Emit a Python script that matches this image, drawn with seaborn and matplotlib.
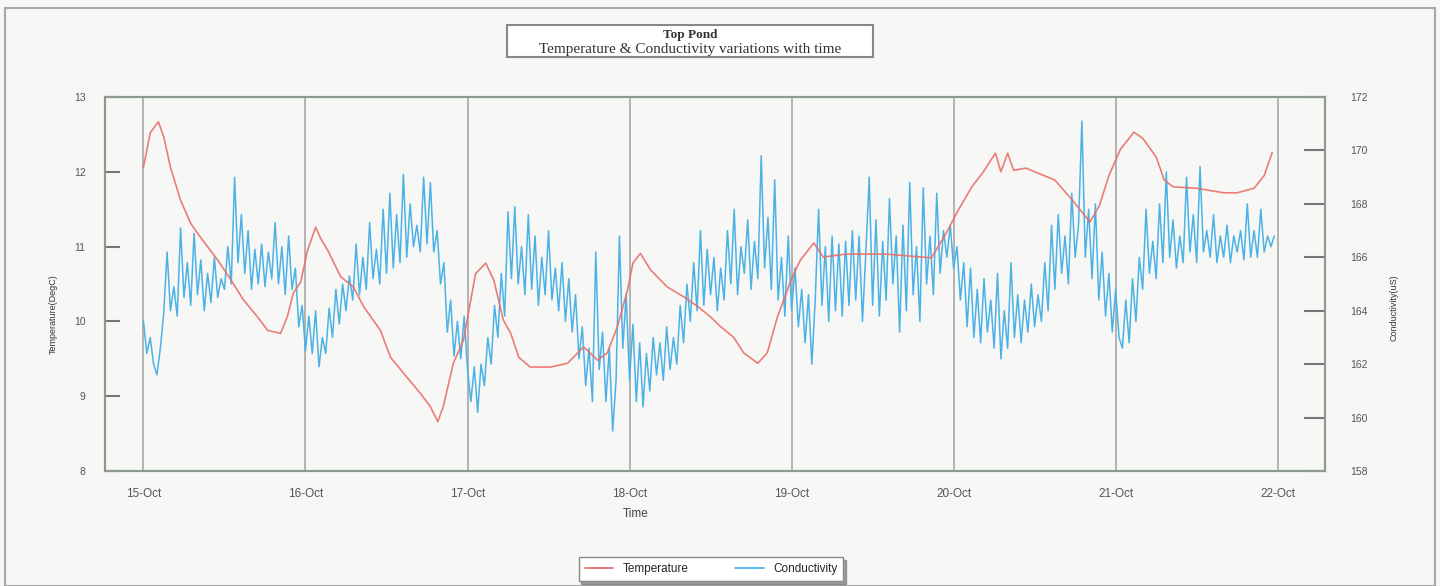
import pandas as pd
import seaborn as sns
import matplotlib.pyplot as plt
from matplotlib.patches import Rectangle
from matplotlib.lines import Line2D

# temperature readings: hours after 15-Oct 00:00 and DegC
temp_hours = [0, 1.0, 2.2, 3.0, 4.0, 5.5, 7.0, 8.4, 11.0, 13.0, 14.8, 16.9, 18.4, 20.3,
              21.3, 22.2, 23.3, 24.3, 25.5, 26.3, 27.3, 29.2, 31.1, 32.6, 35.1, 36.6,
              38.5, 41.0, 42.5, 43.6, 44.4, 45.9, 47.4, 49.2, 50.7, 51.9, 53.3, 54.4,
              55.6, 57.3, 60.3, 62.8, 65.2, 67.3, 68.7, 70.2, 71.7, 72.5, 73.6, 75.1,
              77.6, 80.0, 82.1, 84.0, 85.5, 87.4, 88.9, 91.0, 92.4, 93.9, 95.9, 97.3,
              99.3, 100.7, 104.0, 110.0, 116.7, 118.9, 120.7, 122.7, 124.4, 126.2,
              127.0, 128.0, 128.9, 130.7, 135.0, 137.6, 140.2, 141.6, 143.0, 144.7,
              146.7, 148.0, 150.0, 151.2, 152.5, 156.0, 160.0, 162.0, 164.5, 166.0, 167.2]
temp_values = [12.06, 12.52, 12.67, 12.47, 12.06, 11.62, 11.31, 11.13, 10.82, 10.55, 10.29,
               10.06, 9.88, 9.84, 10.06, 10.38, 10.53, 10.95, 11.26, 11.10, 10.95, 10.60,
               10.46, 10.20, 9.88, 9.52, 9.31, 9.04, 8.86, 8.66, 8.86, 9.44, 9.75, 10.64,
               10.78, 10.55, 10.02, 9.84, 9.52, 9.39, 9.39, 9.44, 9.66, 9.48, 9.58, 9.93,
               10.42, 10.78, 10.91, 10.69, 10.46, 10.33, 10.20, 10.06, 9.93, 9.79, 9.58,
               9.44, 9.58, 10.06, 10.55, 10.82, 11.05, 10.86, 10.90, 10.90, 10.85, 11.18,
               11.49, 11.80, 12.00, 12.25, 12.00, 12.25, 12.02, 12.05, 11.89, 11.62, 11.33,
               11.55, 11.95, 12.30, 12.53, 12.45, 12.20, 11.89, 11.80, 11.78, 11.72, 11.72,
               11.78, 11.95, 12.26]

# conductivity (uS), half-hourly, one list per day
cond_15 = [163.6, 162.4, 163.0, 162.0, 161.6, 162.6, 163.9, 166.2, 164.0, 164.9, 163.8, 167.1,
           164.5, 165.8, 164.2, 166.9, 164.6, 165.9, 164.0, 165.4, 164.3, 166.0, 164.5, 165.2,
           164.8, 166.4, 165.0, 169.0, 165.8, 167.6, 165.4, 167.0, 164.8, 166.3, 165.0, 166.5,
           164.9, 166.2, 165.2, 167.3, 165.0, 166.4, 164.6, 166.8, 164.8, 165.6, 163.4, 164.2]
cond_16 = [162.5, 163.8, 162.4, 164.0, 161.9, 163.0, 162.4, 164.1, 163.0, 164.8, 163.5, 165.0,
           164.0, 165.3, 164.4, 166.5, 164.6, 166.0, 164.8, 167.3, 165.2, 166.3, 165.0, 167.8,
           165.4, 168.4, 165.6, 167.6, 165.8, 169.1, 166.0, 168.0, 166.4, 167.2, 166.2, 169.0,
           166.5, 168.8, 166.2, 167.0, 165.0, 165.8, 163.2, 164.4, 162.3, 163.6, 162.2, 163.8]
cond_17 = [161.8, 160.6, 161.9, 160.2, 162.0, 161.2, 163.0, 162.0, 164.2, 163.0, 165.4, 163.8,
           167.7, 165.2, 167.9, 165.0, 166.4, 164.6, 167.6, 164.8, 166.8, 164.2, 166.0, 164.6,
           167.0, 164.4, 165.6, 164.0, 165.8, 163.6, 165.2, 163.2, 164.6, 162.2, 163.4, 161.2,
           162.6, 160.6, 166.2, 161.8, 163.2, 160.6, 162.6, 159.5, 161.4, 166.8, 162.6, 164.6]
cond_18 = [161.4, 163.5, 160.6, 162.8, 160.4, 162.4, 161.0, 163.0, 161.6, 162.8, 161.4, 163.4,
           161.8, 163.0, 162.0, 164.2, 162.8, 165.0, 163.6, 165.8, 164.0, 167.0, 164.2, 166.3,
           164.6, 166.0, 164.0, 165.6, 164.4, 167.0, 165.0, 167.8, 164.6, 166.4, 165.4, 167.4,
           164.8, 166.6, 165.2, 169.8, 165.6, 167.5, 164.8, 168.9, 164.4, 166.0, 163.8, 166.8]
cond_19 = [164.0, 165.6, 163.4, 164.8, 162.8, 164.6, 162.0, 164.4, 167.8, 164.2, 166.4, 163.6,
           166.8, 164.0, 166.5, 163.8, 166.6, 164.2, 167.0, 164.4, 166.8, 163.6, 166.2, 169.0,
           164.2, 167.4, 163.8, 166.6, 164.4, 168.2, 165.0, 166.8, 163.2, 167.2, 164.0, 168.8,
           164.6, 166.4, 163.6, 168.6, 165.0, 166.8, 164.6, 168.4, 165.4, 167.0, 166.0, 167.2]
cond_20 = [165.6, 166.4, 164.4, 165.8, 163.4, 165.6, 163.0, 164.8, 162.8, 165.2, 163.2, 164.4,
           162.6, 165.4, 162.2, 164.0, 162.6, 165.8, 163.0, 164.6, 162.8, 164.4, 163.2, 165.0,
           163.4, 164.6, 163.6, 165.8, 164.0, 167.2, 164.8, 167.6, 165.4, 166.8, 165.0, 168.4,
           166.0, 167.2, 171.1, 166.0, 167.8, 165.2, 168.0, 164.4, 166.2, 163.8, 165.4, 163.2]
cond_21 = [164.8, 163.0, 162.6, 164.4, 162.8, 165.2, 163.6, 166.0, 164.8, 167.8, 165.4, 166.6,
           165.2, 168.0, 165.8, 169.2, 166.0, 167.4, 165.6, 166.8, 165.8, 169.0, 166.2, 167.6,
           165.8, 169.4, 166.2, 167.0, 166.0, 167.6, 165.8, 166.8, 166.0, 167.2, 165.8, 166.8,
           166.2, 167.0, 165.9, 168.0, 166.0, 167.0, 166.0, 167.8, 166.2, 166.8, 166.4, 166.8]

day_labels = ['15-Oct', '16-Oct', '17-Oct', '18-Oct', '19-Oct', '20-Oct', '21-Oct', '22-Oct']
temp_ticks = [8, 9, 10, 11, 12, 13]
cond_ticks = [158, 160, 162, 164, 166, 168, 170, 172]

red = '#e8706a'
blue = '#4cb2e6'

start = pd.Timestamp('2007-10-15')
temp_df = pd.DataFrame({'Time': start + pd.to_timedelta(temp_hours, unit='h'),
                        'Temperature': temp_values})
cond_all = cond_15 + cond_16 + cond_17 + cond_18 + cond_19 + cond_20 + cond_21
cond_df = pd.DataFrame({'Time': pd.date_range(start, periods=len(cond_all), freq='30min'),
                        'Conductivity': cond_all})

sns.set_theme(style='white')
plt.rcParams['font.family'] = ['Liberation Sans', 'DejaVu Sans']

fig = plt.figure(figsize=(14.4, 5.86), dpi=100, facecolor='#f7f7f5')
fig.add_artist(Rectangle((0.0035, 0.0), 0.9931, 0.9863, transform=fig.transFigure,
                         fill=False, ec='#a8a8a8', lw=1.5))

ax = fig.add_axes([0.0729, 0.1962, 0.8472, 0.6382])
ax2 = ax.twinx()
ax.set_zorder(ax2.get_zorder() + 1)
ax.patch.set_visible(False)
ax2.set_facecolor('#fcfcfc')

sns.lineplot(data=cond_df, x='Time', y='Conductivity', ax=ax2, color=blue, lw=1.1)
sns.lineplot(data=temp_df, x='Time', y='Temperature', ax=ax, color=red, lw=1.2, alpha=0.9)

days = pd.date_range(start, periods=8, freq='D')
for d in days:
    ax2.axvline(d, color='#b3b3b3', lw=1.4, zorder=0)

ax.set_xlim(start - pd.Timedelta(hours=5.7), start + pd.Timedelta(hours=175))
ax.set_ylim(8, 13)
ax2.set_ylim(158, 172)
ax.set_xticks(days)
ax.set_xticklabels(day_labels)
ax.set_yticks(temp_ticks)
ax2.set_yticks(cond_ticks)

for a in (ax, ax2):
    for s in a.spines.values():
        s.set_color('#8f9a8f')
        s.set_linewidth(1.5)
ax.tick_params(axis='y', direction='in', length=11, width=1.5, color='#777777',
               pad=14, labelsize=7.5, labelcolor='#555555')
ax2.tick_params(axis='y', direction='in', length=15, width=1.5, color='#777777',
                pad=18, labelsize=7.5, labelcolor='#555555')
ax.tick_params(axis='x', length=0, pad=12, labelsize=8.5, labelcolor='#555555')

ax.set_xlabel('Time', fontsize=8.5, color='#444444')
ax.xaxis.set_label_coords(0.435, -0.099)
ax.set_ylabel('Temperature(DegC)', fontsize=6.5, color='#333333')
ax.yaxis.set_label_coords(-0.039, 0.42)
ax2.set_ylabel('Conductivity(uS)', fontsize=6.5, color='#333333')
ax2.yaxis.set_label_coords(1.053, 0.436)

# title box
fig.add_artist(Rectangle((507 / 1440, 1 - 57 / 586), 366 / 1440, 32 / 586,
                         transform=fig.transFigure, fc='white', ec='#888888', lw=1.5))
fig.text(690 / 1440, 1 - 35 / 586, 'Top Pond', ha='center', va='center',
         family='Liberation Serif', fontsize=9.5, fontweight='bold', color='#333333')
fig.text(690 / 1440, 1 - 49 / 586, 'Temperature & Conductivity variations with time',
         ha='center', va='center', family='Liberation Serif', fontsize=11, color='#333333')

handles = [Line2D([], [], color=red, lw=1.3), Line2D([], [], color=blue, lw=1.3)]
fig.legend(handles, ['Temperature', 'Conductivity'], loc='center', ncol=2,
           bbox_to_anchor=(711 / 1440, 1 - 569 / 586), frameon=True, fancybox=False,
           edgecolor='#888888', fontsize=8.5, handlelength=2.4, columnspacing=4.0,
           borderpad=0.5, shadow=True)

fig.savefig('out.png', dpi=100, facecolor=fig.get_facecolor())
